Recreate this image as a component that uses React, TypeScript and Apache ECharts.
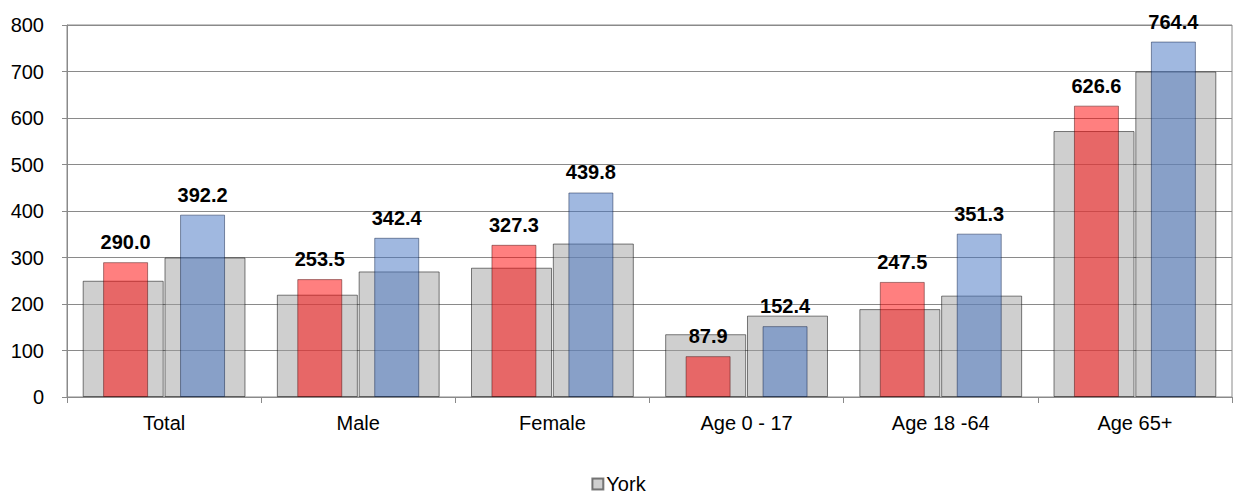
import React, { useEffect, useRef } from "react";
import * as echarts from "echarts";

const categories = ["Total", "Male", "Female", "Age 0 - 17", "Age 18 -64", "Age 65+"];
const yorkLeft = [250, 220, 278, 135, 189, 572];
const yorkRight = [300, 270, 330, 175, 218, 700];
const redValues = [290.0, 253.5, 327.3, 87.9, 247.5, 626.6];
const blueValues = [392.2, 342.4, 439.8, 152.4, 351.3, 764.4];
const yTicks = { min: 0, max: 800, interval: 100 };

const FONT = 'Arial, "Liberation Sans", sans-serif';

export default function App() {
  const ref = useRef<HTMLDivElement>(null);
  useEffect(() => {
    if (!ref.current) return;
    const chart = echarts.init(ref.current, null, { renderer: "svg" });
    const greyStyle = {
      color: "rgba(160,160,160,0.5)",
      borderColor: "rgba(0,0,0,0.5)",
      borderWidth: 1,
    };
    const label = {
      show: true,
      position: "top",
      distance: 10,
      fontFamily: FONT,
      fontSize: 20,
      fontWeight: "bold",
      color: "#000",
      formatter: (p: any) => Number(p.value).toFixed(1),
    };
    chart.setOption({
      animation: false,
      textStyle: { fontFamily: FONT },
      grid: {
        left: 67,
        right: 5,
        top: 25,
        bottom: 98,
        show: true,
        borderColor: "#8a8a8a",
        borderWidth: 1,
      },
      legend: {
        data: ["York"],
        top: 474,
        padding: 0,
        left: "center",
        icon: "rect",
        itemWidth: 11,
        itemHeight: 11,
        itemGap: 4,
        textStyle: { fontFamily: FONT, fontSize: 20, color: "#000", padding: [0, 0, 0, -2] },
      },
      xAxis: [
        {
          type: "category",
          data: categories,
          axisLine: { lineStyle: { color: "#8a8a8a" } },
          axisTick: { show: true, length: 6, lineStyle: { color: "#8a8a8a" } },
          axisLabel: { color: "#000", fontSize: 20, fontFamily: FONT, margin: 16 },
        },
        {
          type: "category",
          data: categories,
          show: false,
        },
      ],
      yAxis: {
        type: "value",
        min: yTicks.min,
        max: yTicks.max,
        interval: yTicks.interval,
        axisLine: { show: true, lineStyle: { color: "#8a8a8a" } },
        axisTick: { show: true, length: 5, lineStyle: { color: "#8a8a8a" } },
        axisLabel: { color: "#000", fontSize: 20, fontFamily: FONT, margin: 23 },
        splitLine: { lineStyle: { color: "#8a8a8a" } },
      },
      series: [
        {
          name: "York",
          type: "bar",
          xAxisIndex: 0,
          data: yorkLeft,
          barWidth: 81,
          barGap: "1%",
          itemStyle: greyStyle,
        },
        {
          name: "York ",
          type: "bar",
          xAxisIndex: 0,
          data: yorkRight,
          barWidth: 81,
          barGap: "1%",
          itemStyle: greyStyle,
        },
        {
          name: "Red",
          type: "bar",
          xAxisIndex: 1,
          data: redValues,
          barWidth: 45,
          barGap: "71%",
          itemStyle: { color: "rgba(255,0,0,0.5)", borderColor: "rgba(60,0,0,0.45)", borderWidth: 1 },
          label,
        },
        {
          name: "Blue",
          type: "bar",
          xAxisIndex: 1,
          data: blueValues,
          barWidth: 45,
          barGap: "71%",
          itemStyle: { color: "rgba(65,113,193,0.5)", borderColor: "rgba(0,20,60,0.45)", borderWidth: 1 },
          label,
        },
      ],
    });
    return () => chart.dispose();
  }, []);
  return (
    <div
      ref={ref}
      style={{ position: "fixed", left: 0, top: 0, width: 1237, height: 495, background: "#fff" }}
    />
  );
}
